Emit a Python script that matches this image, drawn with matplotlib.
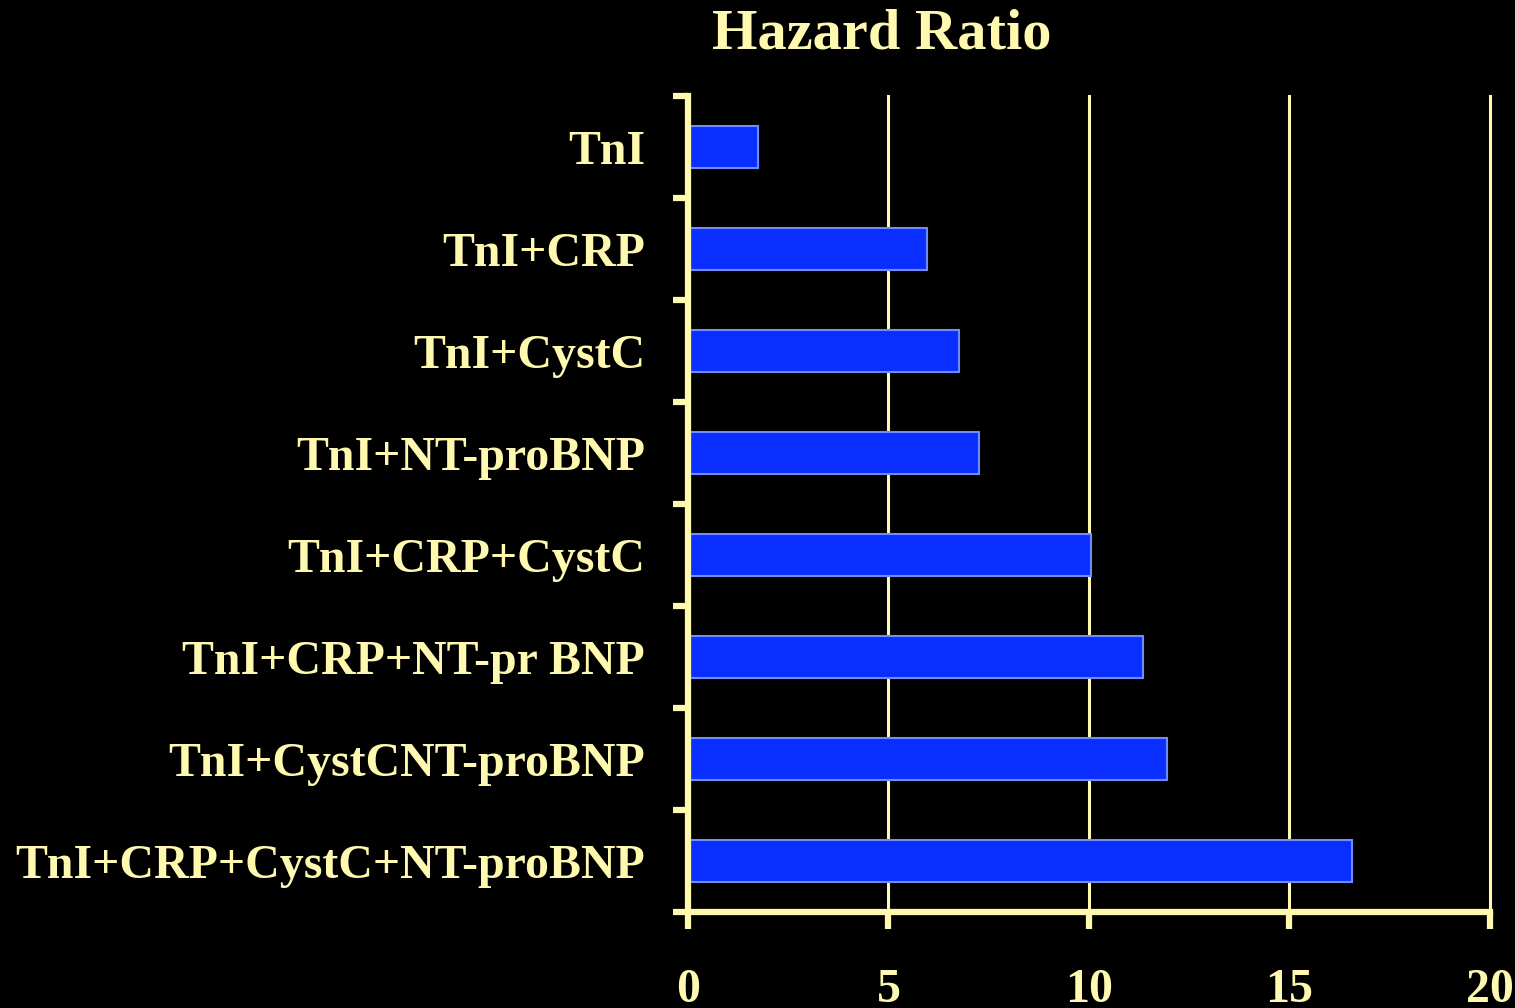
#!/usr/bin/env python3

import matplotlib.pyplot as plt
import numpy as np

cream = '#FFF9B0'
blue = '#0A2EFF'

labels = ["TnI", "TnI+CRP", "TnI+CystC", "TnI+NT-proBNP", "TnI+CRP+CystC",
          "TnI+CRP+NT-pr BNP", "TnI+CystCNT-proBNP", "TnI+CRP+CystC+NT-proBNP"]
hazard = [1.7, 5.9, 6.7, 7.2, 10.0, 11.3, 11.9, 16.5]
xticks = [0, 5, 10, 15, 20]

plt.rcParams['font.family'] = 'Liberation Serif'
plt.rcParams['font.weight'] = 'bold'

fig = plt.figure(facecolor='black')
fig.set_size_inches(15.15, 10.08)
ax = fig.add_axes([0.4541, 0.0952, 0.5294, 0.8096], facecolor='black')

y = np.arange(len(labels))
ax.barh(y, hazard, height=0.41, left=0.05, color=blue, edgecolor='#6F8CFF',
        linewidth=1.5, zorder=3)

ax.set_ylim(len(labels) - 0.5, -0.5)
ax.set_xlim(0, 20)

# category labels centered on bars, ticks on category boundaries
ax.set_yticks(y)
ax.set_yticklabels(labels, fontsize=34.5, color=cream, fontweight='bold')
ax.set_yticks(np.arange(len(labels) + 1) - 0.5, minor=True)
ax.tick_params(axis='y', which='major', length=0, pad=31)
ax.tick_params(axis='y', which='minor', length=11, width=4.5, color=cream, direction='out')

ax.set_xticks(xticks)
ax.set_xticklabels([str(v) for v in xticks], fontsize=34.5, color=cream, fontweight='bold')
ax.tick_params(axis='x', length=12, width=4.5, color=cream, direction='out', pad=28)

ax.grid(True, axis='x', color=cream, linewidth=2.2, zorder=1)
for gl in ax.get_xgridlines():
    gl.set_clip_on(False)
for s in ['top', 'right']:
    ax.spines[s].set_visible(False)
for s in ['left', 'bottom']:
    ax.spines[s].set_color(cream)
    ax.spines[s].set_linewidth(4.5)
    ax.spines[s].set_zorder(4)

fig.text(0.582, 0.966, "Hazard Ratio", ha='center', va='center',
         fontsize=42, color=cream, fontweight='bold')

fig.savefig('out.png', dpi=100, facecolor='black')
